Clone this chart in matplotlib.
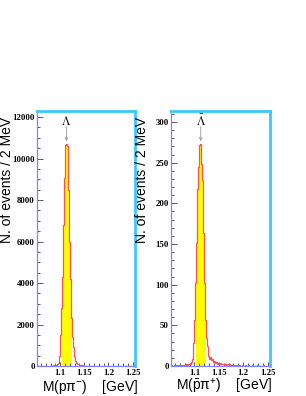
import numpy as np
import matplotlib
matplotlib.use("Agg")
import matplotlib.pyplot as plt
from matplotlib.ticker import FixedLocator, MultipleLocator, FuncFormatter

# ---------------- data ----------------
bin_start = 1.05      # GeV
bin_width = 0.002     # GeV (2 MeV)
signal_window = [1.104, 1.124]

lambda_counts = [
    4, 3, 5, 4, 6, 5, 7, 6, 8, 9,
    10, 9, 12, 13, 15, 17, 20, 24, 28, 34,
    42, 55, 80, 140, 500, 1500, 2800, 4300, 6800, 9050,
    10650, 10700, 10600, 8480, 6000, 4200, 2300, 1400, 900, 450,
    250, 160, 110, 80, 60, 48, 40, 33, 28, 25,
    22, 20, 19, 17, 16, 15, 14, 13, 12, 12,
    11, 10, 10, 9, 9, 8, 8, 8, 7, 7,
    7, 6, 6, 6, 6, 5, 5, 5, 5, 4,
    4, 4, 4, 4, 3, 3, 3, 3, 3, 3,
    2, 2, 2, 2, 2, 2, 2, 2, 1, 1,
]

lambdabar_counts = [
    0, 1, 0, 0, 1, 0, 1, 0, 1, 0,
    1, 0, 1, 1, 0, 1, 2, 1, 3, 2,
    4, 3, 5, 8, 28, 57, 102, 151, 217, 245,
    272, 273, 248, 229, 164, 102, 57, 35, 24, 12,
    9, 11, 7, 8, 5, 6, 4, 5, 3, 4,
    3, 4, 2, 3, 2, 3, 2, 1, 2, 2,
    1, 2, 1, 0, 1, 1, 0, 1, 0, 1,
    0, 1, 0, 0, 1, 0, 0, 1, 0, 0,
    1, 0, 0, 0, 1, 0, 0, 0, 0, 1,
    0, 0, 0, 0, 0, 1, 0, 0, 0, 0,
]

panels = [
    dict(counts=lambda_counts, ylim=12290, ymajor=2000, yminor=500,
         xlabel=r"M($\mathrm{p\pi^{-}}$)    [GeV]",
         particle=r"$\Lambda$"),
    dict(counts=lambdabar_counts, ylim=313.5, ymajor=50, yminor=10,
         xlabel=r"M($\mathrm{\bar{p}\pi^{+}}$)    [GeV]",
         particle=r"$\bar{\Lambda}$"),
]
x_major = [1.1, 1.15, 1.2, 1.25]
x_minor_step = 0.01
x_range = (1.052, 1.255)
ylabel = "N. of events / 2 MeV"

# ---------------- figure ----------------
plt.rcParams["mathtext.fontset"] = "custom"
plt.rcParams["mathtext.rm"] = "Liberation Sans"
plt.rcParams["mathtext.it"] = "Liberation Sans:italic"

W, H = 306, 396
fig = plt.figure(figsize=(W / 100, H / 100), dpi=100)
fig.patch.set_facecolor("white")

ax_px = [(37, 111, 135, 366), (171, 111, 270, 366)]
ylabel_x = [7.5, 142]
xlabel_cx = [90, 224]

sans = ["Liberation Sans", "DejaVu Sans"]

for p, (x0, y0, x1, y1), ylx, xlx in zip(panels, ax_px, ylabel_x, xlabel_cx):
    ax = fig.add_axes([x0 / W, 1 - y1 / H, (x1 - x0) / W, (y1 - y0) / H])
    counts = np.array(p["counts"], dtype=float)
    edges = bin_start + bin_width * np.arange(len(counts) + 1)

    # signal window filled yellow
    centers = 0.5 * (edges[:-1] + edges[1:])
    sel = (centers > signal_window[0]) & (centers < signal_window[1])
    idx = np.where(sel)[0]
    ax.stairs(counts[idx], edges[idx[0]:idx[-1] + 2], fill=True,
              color="#ffff00", linewidth=0, zorder=1)
    ax.stairs(counts, edges, color="#ff5050", linewidth=0.9, zorder=2)

    ax.set_xlim(*x_range)
    ax.set_ylim(0, p["ylim"])

    # spines
    for s in ("left", "bottom"):
        ax.spines[s].set_color("#8080ff")
        ax.spines[s].set_linewidth(0.9)
    for s in ("top", "right"):
        ax.spines[s].set_color("#3cc8ff")
        ax.spines[s].set_linewidth(2.0)

    ax.xaxis.set_major_locator(FixedLocator(x_major))
    ax.xaxis.set_minor_locator(MultipleLocator(x_minor_step))
    ax.xaxis.set_major_formatter(FuncFormatter(lambda v, _: "%g" % v))
    ax.yaxis.set_major_locator(MultipleLocator(p["ymajor"]))
    ax.yaxis.set_minor_locator(MultipleLocator(p["yminor"]))
    ax.yaxis.set_major_formatter(FuncFormatter(lambda v, _: "%d" % round(v)))

    ax.tick_params(axis="both", which="both", direction="in",
                   top=False, right=False, color="#404040", width=0.6)
    ax.tick_params(axis="y", which="major", length=4.3, pad=1.5)
    ax.tick_params(axis="y", which="minor", length=2.4)
    ax.tick_params(axis="x", which="major", length=3.1, pad=2.0)
    ax.tick_params(axis="x", which="minor", length=2.0)
    for lab in ax.get_xticklabels() + ax.get_yticklabels():
        lab.set_family("Liberation Serif")
        lab.set_weight("bold")
        lab.set_fontsize(6.3)

    # peak annotation
    ipk = int(np.argmax(counts))
    xpk = centers[ipk]
    ypk = counts[ipk]
    ax.annotate("", xy=(xpk, ypk), xycoords="data",
                xytext=(0, 12.5), textcoords="offset points",
                arrowprops=dict(arrowstyle="->", color="#999999", lw=0.6,
                                shrinkA=0, shrinkB=2.0, mutation_scale=5))
    ax.annotate(p["particle"], xy=(xpk, ypk), xycoords="data",
                xytext=(0, 16.5), textcoords="offset points",
                ha="center", va="center", fontsize=8.5,
                math_fontfamily="stix", annotation_clip=False)

    fig.text(ylx / W, 1 - 179.5 / H, ylabel, rotation=90, ha="center",
             va="center", fontsize=10, family=sans)
    fig.text(xlx / W, 1 - 387 / H, p["xlabel"], ha="center", va="center",
             fontsize=10, family=sans)

fig.savefig("out.png", dpi=100, facecolor="white")
